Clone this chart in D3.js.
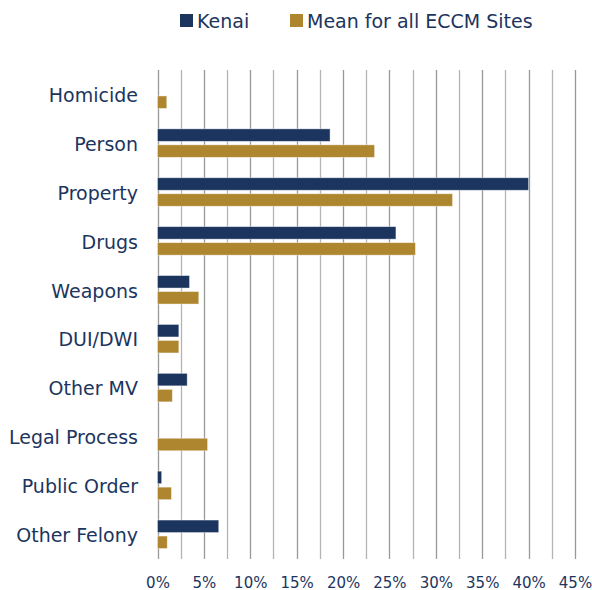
<!DOCTYPE html>
<html><head><meta charset="utf-8">
<script src="https://cdn.jsdelivr.net/npm/d3@7"></script>
<style>body{margin:0;background:#fff}</style>
</head><body>
<script>
const categories = ["Homicide","Person","Property","Drugs","Weapons","DUI/DWI","Other MV","Legal Process","Public Order","Other Felony"];
const seriesNames = ["Kenai","Mean for all ECCM Sites"];
const kenai = [0, 18.6, 40.0, 25.7, 3.45, 2.3, 3.2, 0, 0.45, 6.6];
const meanAll = [1.0, 23.4, 31.8, 27.8, 4.45, 2.3, 1.6, 5.4, 1.5, 1.05];
const tickValues = [0,5,10,15,20,25,30,35,40,45];
const colors = ["#1c355e","#ae862f"];
const textColor = "#1c355e";

const W = 592, H = 590;
const svg = d3.select("body").append("svg").attr("width", W).attr("height", H);
const x = d3.scaleLinear().domain([0,45]).range([157.5, 575]);
const y = d3.scaleBand().domain(categories).range([70, 559]);

// gridlines every 2.5%
const grid = d3.range(0, 45.01, 2.5);
svg.append("g").selectAll("line").data(grid).join("line")
  .attr("x1", d => Math.round(x(d)) + 0.5).attr("x2", d => Math.round(x(d)) + 0.5)
  .attr("y1", 70).attr("y2", 559)
  .attr("stroke", (d,i) => i % 2 ? "#b4b4b4" : "#999999").attr("stroke-width", 1.3);

const series = [kenai, meanAll];
series.forEach((vals, si) => {
  svg.append("g").selectAll("rect").data(categories).join("rect")
    .attr("x", x(0))
    .attr("y", c => y(c) + y.bandwidth()/2 - 14.5 + si*16)
    .attr("height", 12.5)
    .attr("width", (c,i) => Math.max(0, x(vals[i]) - x(0)))
    .attr("fill", colors[si])
    .attr("stroke", "#ffffff").attr("stroke-opacity", 0.5).attr("stroke-width", 0.8);
});

// category labels
svg.append("g").selectAll("text").data(categories).join("text")
  .attr("x", 138).attr("y", c => y(c) + y.bandwidth()/2 + 2)
  .attr("text-anchor", "end").attr("dominant-baseline", "middle")
  .attr("font-family", "DejaVu Sans, sans-serif").attr("font-size", 19)
  .attr("fill", textColor).text(c => c);

// x axis labels
const xAxis = d3.axisBottom(x).tickValues(tickValues).tickFormat(d => d + "%").tickSize(0).tickPadding(0);
const ax = svg.append("g").attr("transform", "translate(0,574)").call(xAxis);
ax.select(".domain").remove();
ax.selectAll("text").attr("font-family", "DejaVu Sans, sans-serif").attr("font-size", 15)
  .attr("fill", textColor).attr("dy", "0.9em");

// legend
const legend = [{x:180, name: seriesNames[0], c: colors[0]}, {x:290, name: seriesNames[1], c: colors[1]}];
const lg = svg.append("g").selectAll("g").data(legend).join("g");
lg.append("rect").attr("x", d => d.x).attr("y", 14).attr("width", 13).attr("height", 13).attr("fill", d => d.c);
lg.append("text").attr("x", d => d.x + 17).attr("y", 27.5)
  .attr("font-family", "DejaVu Sans, sans-serif").attr("font-size", 19)
  .attr("fill", textColor).text(d => d.name);
</script>
</body></html>
